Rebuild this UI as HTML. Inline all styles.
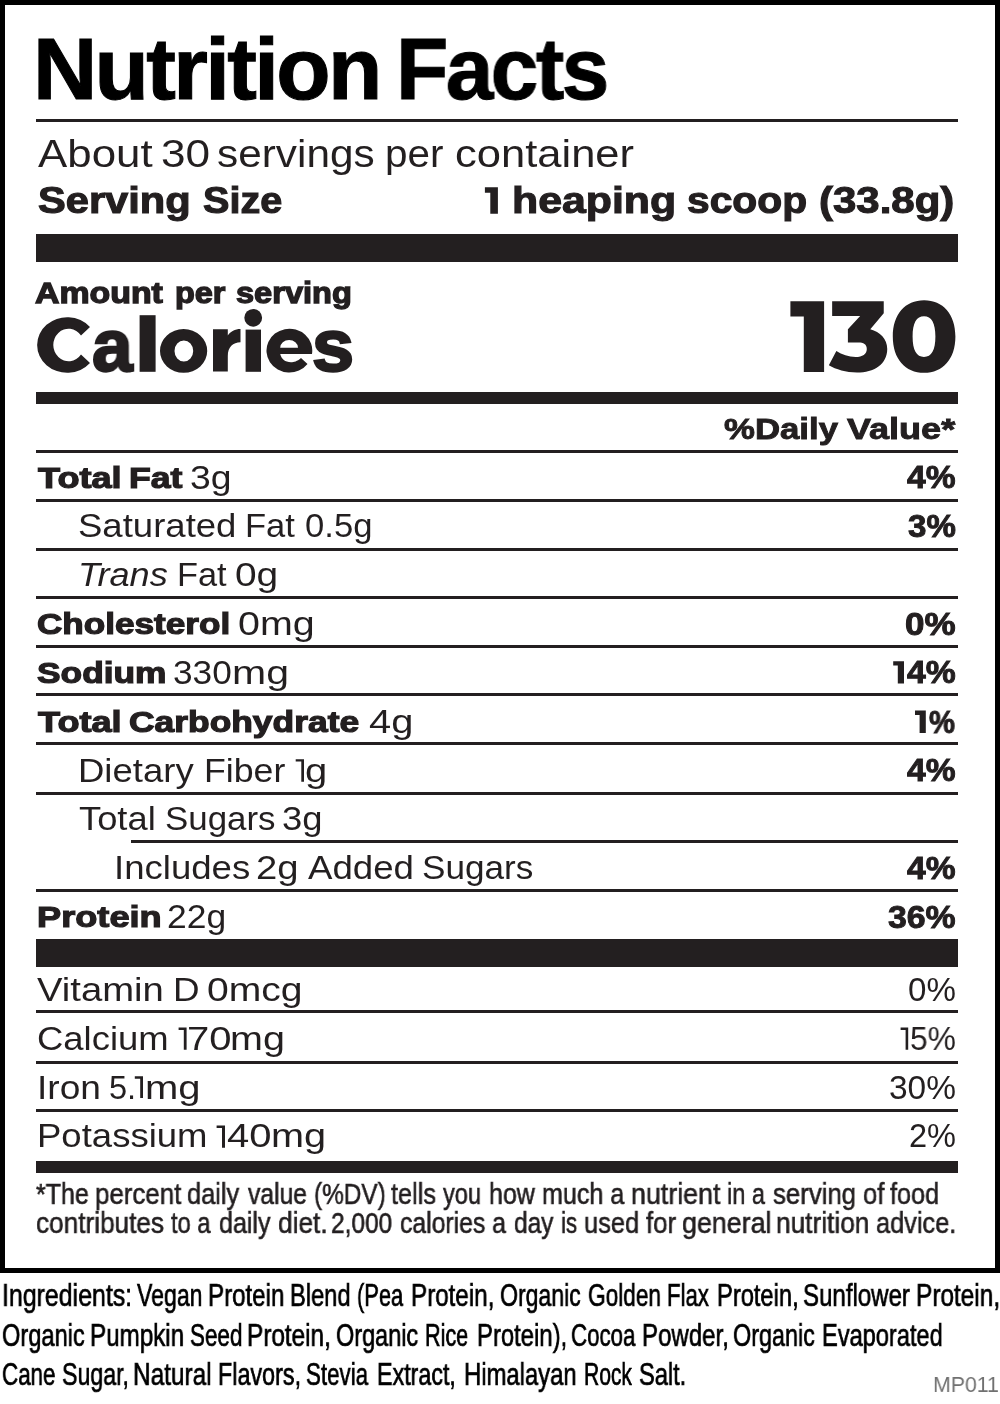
<!DOCTYPE html>
<html lang="en">
<head>
<meta charset="utf-8">
<title>Nutrition Facts</title>
<style>
html,body{margin:0;padding:0;background:#fff;}
body{width:1000px;height:1404px;position:relative;overflow:hidden;font-family:"Liberation Sans",sans-serif;}
.box{position:absolute;left:0;top:0;width:990px;height:1263px;border:5px solid #000;box-sizing:content-box;}
.r{position:absolute;}
.t{position:absolute;line-height:1;white-space:pre;transform-origin:0 0;will-change:transform;font-family:"Liberation Sans",sans-serif;}
</style>
</head>
<body>
<div class="box"></div>
<div class="r" style="left:36px;top:119px;width:922px;height:3px;background:#231f20"></div>
<div class="r" style="left:36px;top:234px;width:922px;height:28px;background:#231f20"></div>
<div class="r" style="left:36px;top:392px;width:922px;height:12px;background:#231f20"></div>
<div class="r" style="left:36px;top:450px;width:922px;height:3px;background:#231f20"></div>
<div class="r" style="left:36px;top:499px;width:922px;height:3px;background:#231f20"></div>
<div class="r" style="left:36px;top:548px;width:922px;height:3px;background:#231f20"></div>
<div class="r" style="left:36px;top:596px;width:922px;height:3px;background:#231f20"></div>
<div class="r" style="left:36px;top:645px;width:922px;height:3px;background:#231f20"></div>
<div class="r" style="left:36px;top:693px;width:922px;height:3px;background:#231f20"></div>
<div class="r" style="left:36px;top:742px;width:922px;height:3px;background:#231f20"></div>
<div class="r" style="left:36px;top:792px;width:922px;height:3px;background:#231f20"></div>
<div class="r" style="left:131px;top:840px;width:827px;height:3px;background:#231f20"></div>
<div class="r" style="left:36px;top:889px;width:922px;height:3px;background:#231f20"></div>
<div class="r" style="left:36px;top:939px;width:922px;height:28px;background:#231f20"></div>
<div class="r" style="left:36px;top:1010px;width:922px;height:3px;background:#231f20"></div>
<div class="r" style="left:36px;top:1061px;width:922px;height:3px;background:#231f20"></div>
<div class="r" style="left:36px;top:1109px;width:922px;height:3px;background:#231f20"></div>
<div class="r" style="left:36px;top:1161px;width:922px;height:12px;background:#231f20"></div>
<span class="t" style="left:33.26px;top:26.00px;color:#000;font-size:87.71px;font-weight:700;letter-spacing:-0.03em;-webkit-text-stroke:1.053px #000;transform:scaleX(1.0150)">Nutrition</span>
<span class="t" style="left:395.67px;top:26.00px;color:#000;font-size:87.71px;font-weight:700;letter-spacing:-0.03em;-webkit-text-stroke:1.053px #000;transform:scaleX(0.9758)">Facts</span>
<span class="t" style="left:37.50px;top:134.00px;color:#231f20;font-size:39.53px;font-weight:400;transform:scaleX(1.1098)">About</span>
<span class="t" style="left:160.73px;top:134.00px;color:#231f20;font-size:39.53px;font-weight:400;transform:scaleX(1.1175)">30</span>
<span class="t" style="left:217.48px;top:134.00px;color:#231f20;font-size:39.53px;font-weight:400;transform:scaleX(1.0713)">servings</span>
<span class="t" style="left:384.67px;top:134.00px;color:#231f20;font-size:39.53px;font-weight:400;transform:scaleX(1.0231)">per</span>
<span class="t" style="left:455.26px;top:134.00px;color:#231f20;font-size:39.53px;font-weight:400;transform:scaleX(1.1016)">container</span>
<span class="t" style="left:37.88px;top:182.00px;color:#231f20;font-size:37.05px;font-weight:700;-webkit-text-stroke:1.111px #231f20;transform:scaleX(1.1237)">Serving</span>
<span class="t" style="left:202.60px;top:182.00px;color:#231f20;font-size:37.05px;font-weight:700;-webkit-text-stroke:1.111px #231f20;transform:scaleX(1.0687)">Size</span>
<span class="t" style="left:511.86px;top:182.00px;color:#231f20;font-size:37.05px;font-weight:700;-webkit-text-stroke:1.111px #231f20;transform:scaleX(1.1560)">heaping</span>
<span class="t" style="left:687.18px;top:182.00px;color:#231f20;font-size:37.05px;font-weight:700;-webkit-text-stroke:1.111px #231f20;transform:scaleX(1.1006)">scoop</span>
<span class="t" style="left:818.74px;top:182.00px;color:#231f20;font-size:37.05px;font-weight:700;-webkit-text-stroke:1.111px #231f20;transform:scaleX(1.1326)">(33.8g)</span>
<span class="t" style="left:35.30px;top:279.00px;color:#231f20;font-size:29.2px;font-weight:700;-webkit-text-stroke:1.314px #231f20;transform:scaleX(1.1602)">Amount</span>
<span class="t" style="left:175.00px;top:279.00px;color:#231f20;font-size:29.2px;font-weight:700;-webkit-text-stroke:1.314px #231f20;transform:scaleX(1.1108)">per</span>
<span class="t" style="left:236.17px;top:279.00px;color:#231f20;font-size:29.2px;font-weight:700;-webkit-text-stroke:1.314px #231f20;transform:scaleX(1.1155)">serving</span>
<span class="t" style="left:91.67px;top:309.00px;color:#231f20;font-size:74.44px;font-weight:700;-webkit-text-stroke:2.382px #231f20;transform:scaleX(0.9804)">a</span>
<span class="t" style="left:312.49px;top:309.00px;color:#231f20;font-size:74.44px;font-weight:700;-webkit-text-stroke:2.382px #231f20;transform:scaleX(1.0167)">s</span>
<span class="t" style="left:724.25px;top:414.00px;color:#231f20;font-size:29.94px;font-weight:700;-webkit-text-stroke:0.898px #231f20;transform:scaleX(1.1609)">%Daily</span>
<span class="t" style="left:847.36px;top:414.00px;color:#231f20;font-size:29.94px;font-weight:700;-webkit-text-stroke:0.898px #231f20;transform:scaleX(1.2037)">Value*</span>
<span class="t" style="left:37.56px;top:463.00px;color:#231f20;font-size:30.22px;font-weight:700;-webkit-text-stroke:1.209px #231f20;transform:scaleX(1.1953)">Total</span>
<span class="t" style="left:129.22px;top:463.00px;color:#231f20;font-size:30.22px;font-weight:700;-webkit-text-stroke:1.209px #231f20;transform:scaleX(1.1786)">Fat</span>
<span class="t" style="left:190.31px;top:462.00px;color:#231f20;font-size:32.7px;font-weight:400;transform:scaleX(1.1415)">3g</span>
<span class="t" style="left:907.00px;top:462.00px;color:#231f20;font-size:30.64px;font-weight:700;-webkit-text-stroke:0.919px #231f20;transform:scaleX(1.0955)">4%</span>
<span class="t" style="left:77.67px;top:510.00px;color:#231f20;font-size:32.7px;font-weight:400;transform:scaleX(1.1178)">Saturated</span>
<span class="t" style="left:245.24px;top:510.00px;color:#231f20;font-size:32.7px;font-weight:400;transform:scaleX(1.0568)">Fat</span>
<span class="t" style="left:304.86px;top:510.00px;color:#231f20;font-size:32.7px;font-weight:400;transform:scaleX(1.0595)">0.5g</span>
<span class="t" style="left:907.67px;top:511.00px;color:#231f20;font-size:30.64px;font-weight:700;-webkit-text-stroke:0.919px #231f20;transform:scaleX(1.0802)">3%</span>
<span class="t" style="left:77.99px;top:559.00px;color:#231f20;font-size:32.7px;font-weight:400;font-style:italic;transform:scaleX(1.1065)">Trans</span>
<span class="t" style="left:176.75px;top:559.00px;color:#231f20;font-size:32.7px;font-weight:400;transform:scaleX(1.0512)">Fat</span>
<span class="t" style="left:235.45px;top:559.00px;color:#231f20;font-size:32.7px;font-weight:400;transform:scaleX(1.1884)">0g</span>
<span class="t" style="left:37.30px;top:609.00px;color:#231f20;font-size:30.22px;font-weight:700;-webkit-text-stroke:1.209px #231f20;transform:scaleX(1.1624)">Cholesterol</span>
<span class="t" style="left:238.42px;top:608.00px;color:#231f20;font-size:32.7px;font-weight:400;transform:scaleX(1.2050)">0mg</span>
<span class="t" style="left:904.90px;top:609.00px;color:#231f20;font-size:30.64px;font-weight:700;-webkit-text-stroke:0.919px #231f20;transform:scaleX(1.1435)">0%</span>
<span class="t" style="left:37.15px;top:658.00px;color:#231f20;font-size:30.22px;font-weight:700;-webkit-text-stroke:1.209px #231f20;transform:scaleX(1.1687)">Sodium</span>
<span class="t" style="left:173.09px;top:657.00px;color:#231f20;font-size:32.7px;font-weight:400;transform:scaleX(1.0771)">330</span>
<span class="t" style="left:232.13px;top:657.00px;color:#231f20;font-size:32.7px;font-weight:400;transform:scaleX(1.2538)">mg</span>
<span class="t" style="left:906.80px;top:657.00px;color:#231f20;font-size:30.64px;font-weight:700;-webkit-text-stroke:0.919px #231f20;transform:scaleX(1.1001)">4%</span>
<span class="t" style="left:37.56px;top:707.00px;color:#231f20;font-size:30.22px;font-weight:700;-webkit-text-stroke:1.209px #231f20;transform:scaleX(1.1953)">Total</span>
<span class="t" style="left:129.29px;top:707.00px;color:#231f20;font-size:30.22px;font-weight:700;-webkit-text-stroke:1.209px #231f20;transform:scaleX(1.1712)">Carbohydrate</span>
<span class="t" style="left:369.20px;top:706.00px;color:#231f20;font-size:32.7px;font-weight:400;transform:scaleX(1.2173)">4g</span>
<span class="t" style="left:929.31px;top:707.00px;color:#231f20;font-size:30.64px;font-weight:700;-webkit-text-stroke:0.919px #231f20;transform:scaleX(0.9529)">%</span>
<span class="t" style="left:78.33px;top:755.00px;color:#231f20;font-size:32.7px;font-weight:400;transform:scaleX(1.1170)">Dietary</span>
<span class="t" style="left:204.14px;top:755.00px;color:#231f20;font-size:32.7px;font-weight:400;transform:scaleX(1.0914)">Fiber</span>
<span class="t" style="left:305.40px;top:755.00px;color:#231f20;font-size:32.7px;font-weight:400;transform:scaleX(1.2232)">g</span>
<span class="t" style="left:907.00px;top:755.00px;color:#231f20;font-size:30.64px;font-weight:700;-webkit-text-stroke:0.919px #231f20;transform:scaleX(1.0955)">4%</span>
<span class="t" style="left:79.27px;top:803.00px;color:#231f20;font-size:32.7px;font-weight:400;transform:scaleX(1.1110)">Total</span>
<span class="t" style="left:164.50px;top:803.00px;color:#231f20;font-size:32.7px;font-weight:400;transform:scaleX(1.0674)">Sugars</span>
<span class="t" style="left:282.29px;top:803.00px;color:#231f20;font-size:32.7px;font-weight:400;transform:scaleX(1.1127)">3g</span>
<span class="t" style="left:113.71px;top:852.00px;color:#231f20;font-size:32.7px;font-weight:400;transform:scaleX(1.1192)">Includes</span>
<span class="t" style="left:256.09px;top:852.00px;color:#231f20;font-size:32.7px;font-weight:400;transform:scaleX(1.1697)">2g</span>
<span class="t" style="left:307.50px;top:852.00px;color:#231f20;font-size:32.7px;font-weight:400;transform:scaleX(1.1211)">Added</span>
<span class="t" style="left:421.99px;top:852.00px;color:#231f20;font-size:32.7px;font-weight:400;transform:scaleX(1.0748)">Sugars</span>
<span class="t" style="left:907.00px;top:853.00px;color:#231f20;font-size:30.64px;font-weight:700;-webkit-text-stroke:0.919px #231f20;transform:scaleX(1.0955)">4%</span>
<span class="t" style="left:36.94px;top:902.00px;color:#231f20;font-size:30.22px;font-weight:700;-webkit-text-stroke:1.209px #231f20;transform:scaleX(1.1977)">Protein</span>
<span class="t" style="left:166.98px;top:901.00px;color:#231f20;font-size:32.7px;font-weight:400;transform:scaleX(1.0851)">22g</span>
<span class="t" style="left:887.66px;top:902.00px;color:#231f20;font-size:30.64px;font-weight:700;-webkit-text-stroke:0.919px #231f20;transform:scaleX(1.1044)">36%</span>
<span class="t" style="left:37.37px;top:974.00px;color:#231f20;font-size:32.56px;font-weight:400;transform:scaleX(1.1754)">Vitamin</span>
<span class="t" style="left:172.76px;top:974.00px;color:#231f20;font-size:32.56px;font-weight:400;transform:scaleX(1.1296)">D</span>
<span class="t" style="left:206.64px;top:974.00px;color:#231f20;font-size:32.56px;font-weight:400;transform:scaleX(1.2009)">0mcg</span>
<span class="t" style="left:908.27px;top:974.00px;color:#231f20;font-size:32.56px;font-weight:400;transform:scaleX(1.0178)">0%</span>
<span class="t" style="left:36.88px;top:1023.00px;color:#231f20;font-size:32.56px;font-weight:400;transform:scaleX(1.1206)">Calcium</span>
<span class="t" style="left:187.20px;top:1023.00px;color:#231f20;font-size:32.56px;font-weight:400;transform:scaleX(1.2285)">70</span>
<span class="t" style="left:230.23px;top:1023.00px;color:#231f20;font-size:32.56px;font-weight:400;transform:scaleX(1.2138)">mg</span>
<span class="t" style="left:910.33px;top:1023.00px;color:#231f20;font-size:32.56px;font-weight:400;transform:scaleX(0.9774)">5%</span>
<span class="t" style="left:36.56px;top:1072.00px;color:#231f20;font-size:32.56px;font-weight:400;transform:scaleX(1.1405)">Iron</span>
<span class="t" style="left:108.50px;top:1072.00px;color:#231f20;font-size:32.56px;font-weight:400;transform:scaleX(1.0004)">5.</span>
<span class="t" style="left:145.20px;top:1072.00px;color:#231f20;font-size:32.56px;font-weight:400;transform:scaleX(1.2285)">mg</span>
<span class="t" style="left:889.06px;top:1072.00px;color:#231f20;font-size:32.56px;font-weight:400;transform:scaleX(1.0280)">30%</span>
<span class="t" style="left:36.98px;top:1120.00px;color:#231f20;font-size:32.56px;font-weight:400;transform:scaleX(1.1225)">Potassium</span>
<span class="t" style="left:227.00px;top:1120.00px;color:#231f20;font-size:32.56px;font-weight:400;transform:scaleX(1.2285)">40</span>
<span class="t" style="left:270.62px;top:1120.00px;color:#231f20;font-size:32.56px;font-weight:400;transform:scaleX(1.2187)">mg</span>
<span class="t" style="left:909.38px;top:1120.00px;color:#231f20;font-size:32.56px;font-weight:400;transform:scaleX(0.9936)">2%</span>
<span class="t" style="left:36.05px;top:1180.00px;color:#231f20;font-size:29.1px;font-weight:400;-webkit-text-stroke:0.582px #231f20;transform:scaleX(0.8599)">*The</span>
<span class="t" style="left:95.21px;top:1180.00px;color:#231f20;font-size:29.1px;font-weight:400;-webkit-text-stroke:0.582px #231f20;transform:scaleX(0.8899)">percent</span>
<span class="t" style="left:187.24px;top:1180.00px;color:#231f20;font-size:29.1px;font-weight:400;-webkit-text-stroke:0.582px #231f20;transform:scaleX(0.8726)">daily</span>
<span class="t" style="left:248.25px;top:1180.00px;color:#231f20;font-size:29.1px;font-weight:400;-webkit-text-stroke:0.582px #231f20;transform:scaleX(0.8482)">value</span>
<span class="t" style="left:313.68px;top:1180.00px;color:#231f20;font-size:29.1px;font-weight:400;-webkit-text-stroke:0.582px #231f20;transform:scaleX(0.8373)">(%DV)</span>
<span class="t" style="left:390.85px;top:1180.00px;color:#231f20;font-size:29.1px;font-weight:400;-webkit-text-stroke:0.582px #231f20;transform:scaleX(0.8690)">tells</span>
<span class="t" style="left:443.34px;top:1180.00px;color:#231f20;font-size:29.1px;font-weight:400;-webkit-text-stroke:0.582px #231f20;transform:scaleX(0.8120)">you</span>
<span class="t" style="left:489.20px;top:1180.00px;color:#231f20;font-size:29.1px;font-weight:400;-webkit-text-stroke:0.582px #231f20;transform:scaleX(0.8601)">how</span>
<span class="t" style="left:541.70px;top:1180.00px;color:#231f20;font-size:29.1px;font-weight:400;-webkit-text-stroke:0.582px #231f20;transform:scaleX(0.8618)">much a</span>
<span class="t" style="left:630.99px;top:1180.00px;color:#231f20;font-size:29.1px;font-weight:400;-webkit-text-stroke:0.582px #231f20;transform:scaleX(0.9220)">nutrient</span>
<span class="t" style="left:727.29px;top:1180.00px;color:#231f20;font-size:29.1px;font-weight:400;-webkit-text-stroke:0.582px #231f20;transform:scaleX(0.8084)">in a</span>
<span class="t" style="left:772.98px;top:1180.00px;color:#231f20;font-size:29.1px;font-weight:400;-webkit-text-stroke:0.582px #231f20;transform:scaleX(0.8858)">serving</span>
<span class="t" style="left:862.93px;top:1180.00px;color:#231f20;font-size:29.1px;font-weight:400;-webkit-text-stroke:0.582px #231f20;transform:scaleX(0.8782)">of</span>
<span class="t" style="left:890.30px;top:1180.00px;color:#231f20;font-size:29.1px;font-weight:400;-webkit-text-stroke:0.582px #231f20;transform:scaleX(0.8673)">food</span>
<span class="t" style="left:36.21px;top:1209.00px;color:#231f20;font-size:29.1px;font-weight:400;-webkit-text-stroke:0.582px #231f20;transform:scaleX(0.8996)">contributes</span>
<span class="t" style="left:170.96px;top:1209.00px;color:#231f20;font-size:29.1px;font-weight:400;-webkit-text-stroke:0.582px #231f20;transform:scaleX(0.8149)">to a</span>
<span class="t" style="left:218.75px;top:1209.00px;color:#231f20;font-size:29.1px;font-weight:400;-webkit-text-stroke:0.582px #231f20;transform:scaleX(0.8608)">daily</span>
<span class="t" style="left:277.51px;top:1209.00px;color:#231f20;font-size:29.1px;font-weight:400;-webkit-text-stroke:0.582px #231f20;transform:scaleX(0.9016)">diet.</span>
<span class="t" style="left:331.02px;top:1209.00px;color:#231f20;font-size:29.1px;font-weight:400;-webkit-text-stroke:0.582px #231f20;transform:scaleX(0.8414)">2,000</span>
<span class="t" style="left:399.86px;top:1209.00px;color:#231f20;font-size:29.1px;font-weight:400;-webkit-text-stroke:0.582px #231f20;transform:scaleX(0.8510)">calories a</span>
<span class="t" style="left:514.17px;top:1209.00px;color:#231f20;font-size:29.1px;font-weight:400;-webkit-text-stroke:0.582px #231f20;transform:scaleX(0.8407)">day</span>
<span class="t" style="left:560.96px;top:1209.00px;color:#231f20;font-size:29.1px;font-weight:400;-webkit-text-stroke:0.582px #231f20;transform:scaleX(0.7678)">is</span>
<span class="t" style="left:584.18px;top:1209.00px;color:#231f20;font-size:29.1px;font-weight:400;-webkit-text-stroke:0.582px #231f20;transform:scaleX(0.8734)">used</span>
<span class="t" style="left:646.00px;top:1209.00px;color:#231f20;font-size:29.1px;font-weight:400;-webkit-text-stroke:0.582px #231f20;transform:scaleX(0.8887)">for</span>
<span class="t" style="left:681.70px;top:1209.00px;color:#231f20;font-size:29.1px;font-weight:400;-webkit-text-stroke:0.582px #231f20;transform:scaleX(0.9220)">general</span>
<span class="t" style="left:775.72px;top:1209.00px;color:#231f20;font-size:29.1px;font-weight:400;-webkit-text-stroke:0.582px #231f20;transform:scaleX(0.9021)">nutrition</span>
<span class="t" style="left:876.34px;top:1209.00px;color:#231f20;font-size:29.1px;font-weight:400;-webkit-text-stroke:0.582px #231f20;transform:scaleX(0.8715)">advice.</span>
<span class="t" style="left:1.51px;top:1280.00px;color:#000;font-size:31.69px;font-weight:400;-webkit-text-stroke:0.697px #000;transform:scaleX(0.7858)">Ingredients:</span>
<span class="t" style="left:137.23px;top:1280.00px;color:#000;font-size:31.69px;font-weight:400;-webkit-text-stroke:0.697px #000;transform:scaleX(0.7284)">Vegan</span>
<span class="t" style="left:208.11px;top:1280.00px;color:#000;font-size:31.69px;font-weight:400;-webkit-text-stroke:0.697px #000;transform:scaleX(0.7609)">Protein</span>
<span class="t" style="left:290.24px;top:1280.00px;color:#000;font-size:31.69px;font-weight:400;-webkit-text-stroke:0.697px #000;transform:scaleX(0.7462)">Blend</span>
<span class="t" style="left:356.91px;top:1280.00px;color:#000;font-size:31.69px;font-weight:400;-webkit-text-stroke:0.697px #000;transform:scaleX(0.6906)">(Pea</span>
<span class="t" style="left:411.41px;top:1280.00px;color:#000;font-size:31.69px;font-weight:400;-webkit-text-stroke:0.697px #000;transform:scaleX(0.7631)">Protein,</span>
<span class="t" style="left:499.68px;top:1280.00px;color:#000;font-size:31.69px;font-weight:400;-webkit-text-stroke:0.697px #000;transform:scaleX(0.7281)">Organic</span>
<span class="t" style="left:587.69px;top:1280.00px;color:#000;font-size:31.69px;font-weight:400;-webkit-text-stroke:0.697px #000;transform:scaleX(0.7148)">Golden</span>
<span class="t" style="left:667.35px;top:1280.00px;color:#000;font-size:31.69px;font-weight:400;-webkit-text-stroke:0.697px #000;transform:scaleX(0.7001)">Flax</span>
<span class="t" style="left:716.94px;top:1280.00px;color:#000;font-size:31.69px;font-weight:400;-webkit-text-stroke:0.697px #000;transform:scaleX(0.7478)">Protein,</span>
<span class="t" style="left:803.08px;top:1280.00px;color:#000;font-size:31.69px;font-weight:400;-webkit-text-stroke:0.697px #000;transform:scaleX(0.7585)">Sunflower</span>
<span class="t" style="left:916.29px;top:1280.00px;color:#000;font-size:31.69px;font-weight:400;-webkit-text-stroke:0.697px #000;transform:scaleX(0.7698)">Protein,</span>
<span class="t" style="left:1.85px;top:1320.00px;color:#000;font-size:31.69px;font-weight:400;-webkit-text-stroke:0.697px #000;transform:scaleX(0.7464)">Organic</span>
<span class="t" style="left:90.01px;top:1320.00px;color:#000;font-size:31.69px;font-weight:400;-webkit-text-stroke:0.697px #000;transform:scaleX(0.7634)">Pumpkin</span>
<span class="t" style="left:190.23px;top:1320.00px;color:#000;font-size:31.69px;font-weight:400;-webkit-text-stroke:0.697px #000;transform:scaleX(0.7068)">Seed</span>
<span class="t" style="left:247.30px;top:1320.00px;color:#000;font-size:31.69px;font-weight:400;-webkit-text-stroke:0.697px #000;transform:scaleX(0.7679)">Protein,</span>
<span class="t" style="left:336.06px;top:1320.00px;color:#000;font-size:31.69px;font-weight:400;-webkit-text-stroke:0.697px #000;transform:scaleX(0.7409)">Organic</span>
<span class="t" style="left:425.19px;top:1320.00px;color:#000;font-size:31.69px;font-weight:400;-webkit-text-stroke:0.697px #000;transform:scaleX(0.6809)">Rice</span>
<span class="t" style="left:476.53px;top:1320.00px;color:#000;font-size:31.69px;font-weight:400;-webkit-text-stroke:0.697px #000;transform:scaleX(0.7528)">Protein),</span>
<span class="t" style="left:570.91px;top:1320.00px;color:#000;font-size:31.69px;font-weight:400;-webkit-text-stroke:0.697px #000;transform:scaleX(0.7028)">Cocoa</span>
<span class="t" style="left:641.52px;top:1320.00px;color:#000;font-size:31.69px;font-weight:400;-webkit-text-stroke:0.697px #000;transform:scaleX(0.7579)">Powder,</span>
<span class="t" style="left:733.06px;top:1320.00px;color:#000;font-size:31.69px;font-weight:400;-webkit-text-stroke:0.697px #000;transform:scaleX(0.7381)">Organic</span>
<span class="t" style="left:821.75px;top:1320.00px;color:#000;font-size:31.69px;font-weight:400;-webkit-text-stroke:0.697px #000;transform:scaleX(0.7449)">Evaporated</span>
<span class="t" style="left:1.91px;top:1359.00px;color:#000;font-size:31.69px;font-weight:400;-webkit-text-stroke:0.697px #000;transform:scaleX(0.7046)">Cane</span>
<span class="t" style="left:61.61px;top:1359.00px;color:#000;font-size:31.69px;font-weight:400;-webkit-text-stroke:0.697px #000;transform:scaleX(0.7310)">Sugar,</span>
<span class="t" style="left:133.19px;top:1359.00px;color:#000;font-size:31.69px;font-weight:400;-webkit-text-stroke:0.697px #000;transform:scaleX(0.7696)">Natural</span>
<span class="t" style="left:217.97px;top:1359.00px;color:#000;font-size:31.69px;font-weight:400;-webkit-text-stroke:0.697px #000;transform:scaleX(0.7366)">Flavors,</span>
<span class="t" style="left:306.23px;top:1359.00px;color:#000;font-size:31.69px;font-weight:400;-webkit-text-stroke:0.697px #000;transform:scaleX(0.7043)">Stevia</span>
<span class="t" style="left:376.67px;top:1359.00px;color:#000;font-size:31.69px;font-weight:400;-webkit-text-stroke:0.697px #000;transform:scaleX(0.7344)">Extract,</span>
<span class="t" style="left:463.93px;top:1359.00px;color:#000;font-size:31.69px;font-weight:400;-webkit-text-stroke:0.697px #000;transform:scaleX(0.7525)">Himalayan</span>
<span class="t" style="left:583.63px;top:1359.00px;color:#000;font-size:31.69px;font-weight:400;-webkit-text-stroke:0.697px #000;transform:scaleX(0.6637)">Rock</span>
<span class="t" style="left:638.99px;top:1359.00px;color:#000;font-size:31.69px;font-weight:400;-webkit-text-stroke:0.697px #000;transform:scaleX(0.7446)">Salt.</span>
<span class="t" style="left:932.80px;top:1373.00px;color:#707070;font-size:22.97px;font-weight:400;transform:scaleX(0.9266)">MP011</span>
<svg class="r" style="left:0;top:0" width="1000" height="1404" viewBox="0 0 1000 1404">
<g fill="#231f20">
<path d="M790.4,301.2 H824.1 V372 H803.8 V316.6 H790.4 Z"/>
<path d="M832.15,301.2 H883.74 V313.34 L870.3,329.3 C880,332 887.24,339 887.24,348.9 C887.24,364 874,372.6 857,372.6 C846,372.6 836,369.5 828.86,365.35 L836.35,351 C842,354.5 848.5,356.95 855.6,356.95 C862.5,356.95 866.8,354 866.8,348.9 C866.8,344.5 863.5,342.6 858.4,342.6 H847.9 V329.3 L860.15,316 H832.15 Z"/>
<path fill-rule="evenodd" d="M924.1,300.2 C943,300.2 955.4,314 955.4,336.5 C955.4,359 943,372.8 924.1,372.8 C905.2,372.8 892.8,359 892.8,336.5 C892.8,314 905.2,300.2 924.1,300.2 Z M924,316.2 C916.5,316.2 912.6,323 912.6,336.6 C912.6,350.2 916.5,357 924,357 C931.5,357 935.4,350.2 935.4,336.6 C935.4,323 931.5,316.2 924,316.2 Z"/>
<rect x="139.6" y="315.2" width="16" height="56.6"/>
<rect x="245.6" y="329.6" width="15.4" height="42.2"/>
<circle cx="253.2" cy="317.8" r="8.9"/>
<path d="M484.9,187.2 H497.9 V213.7 H490.3 V192.7 H484.9 Z"/>
<path d="M90,327 A30,27.8 0 1 0 90,363 L81,354.5 A15.3,16.25 0 1 1 81,335.5 Z"/>
<path fill-rule="evenodd" d="M160,350.9 A23.6,21.9 0 1 0 207.2,350.9 A23.6,21.9 0 1 0 160,350.9 Z M174.5,351 A9.35,10.5 0 1 0 193.2,351 A9.35,10.5 0 1 0 174.5,351 Z"/>
<path d="M213,329.2 H227.8 V335.5 C230.5,331.5 235,329 240.5,329 V342.2 C233,342.2 227.8,347 227.8,356 V371.6 H213 Z"/>
<path fill-rule="evenodd" d="M312,354 A22.9,21.9 0 1 0 307.5,364 L301,358 C297,361.5 294,362.2 291,362.2 C285,362.2 281.5,359 280.2,354 Z M280.2,347.8 A8.9,7.8 0 0 1 298,347.8 Z"/>
<path d="M900.6,1027.4 H908.2 V1049.8 H905.6 V1029.9 H900.6 Z"/>
<path d="M893.2,661.2 H904 V683.6 H897.8 V665.6 H893.2 Z"/>
<path d="M915,710.6 H925.8 V733 H919.6 V715 H915 Z"/>
<path d="M295.7,759.2 H304 V781.7 H301.3 V761.6 H295.7 Z"/>
<path d="M178.6,1027.4 H186.6 V1049.8 H183.8 V1029.9 H178.6 Z"/>
<path d="M134.8,1076.2 H143 V1098 H140.2 V1078.7 H134.8 Z"/>
<path d="M216.6,1125.4 H225 V1147.8 H222 V1127.9 H216.6 Z"/>
</g>
</svg>

</body>
</html>
